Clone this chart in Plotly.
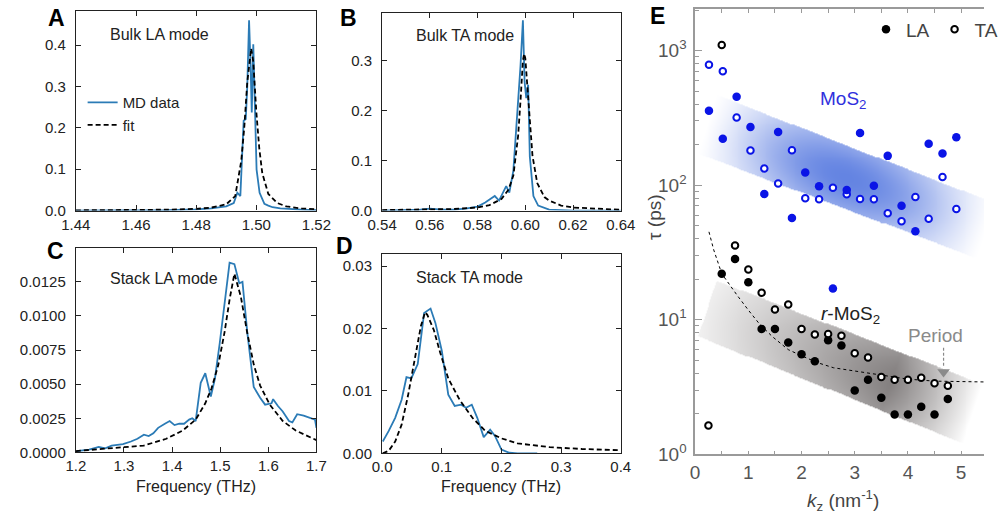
import numpy as np
import plotly.graph_objects as go

W, H = 1003, 529
FONT = "Liberation Sans, Arial, Helvetica, sans-serif"

# ---------------- Panel A: Bulk LA mode ----------------
a_md_f = [1.440, 1.460, 1.470, 1.480, 1.485, 1.490, 1.4925, 1.4937, 1.4947, 1.4958, 1.4965,
          1.4970, 1.4976, 1.4981, 1.4985, 1.4990, 1.4995, 1.5001, 1.5011, 1.5020, 1.5027,
          1.5040, 1.5054, 1.5080, 1.5110, 1.5150, 1.5200]
a_md_v = [0.000, 0.0005, 0.001, 0.003, 0.005, 0.010, 0.018, 0.043, 0.035, 0.217, 0.221,
          0.300, 0.460, 0.351, 0.237, 0.402, 0.240, 0.099, 0.043, 0.030, 0.016,
          0.012, 0.008, 0.005, 0.003, 0.002, 0.001]
a_fit_f = [1.440, 1.460, 1.470, 1.480, 1.485, 1.490, 1.493, 1.495, 1.496, 1.497, 1.498,
           1.4983, 1.499, 1.500, 1.501, 1.502, 1.504, 1.507, 1.510, 1.515, 1.520]
a_fit_v = [0.0005, 0.001, 0.002, 0.004, 0.007, 0.015, 0.035, 0.120, 0.200, 0.310, 0.385,
           0.392, 0.360, 0.240, 0.150, 0.090, 0.040, 0.018, 0.010, 0.005, 0.003]

# ---------------- Panel B: Bulk TA mode ----------------
b_md_f = [0.540, 0.550, 0.556, 0.560, 0.565, 0.570, 0.575, 0.580, 0.5832, 0.5872, 0.589,
          0.592, 0.5933, 0.595, 0.5964, 0.598, 0.599, 0.5997, 0.6004, 0.6012, 0.6019,
          0.6034, 0.6054, 0.6074, 0.610, 0.620, 0.640]
b_md_v = [0.000, 0.001, 0.002, 0.004, 0.002, 0.002, 0.004, 0.008, 0.016, 0.029, 0.020,
          0.049, 0.036, 0.080, 0.173, 0.290, 0.381, 0.258, 0.225, 0.252, 0.108,
          0.029, 0.010, 0.006, 0.002, 0.000, 0.000]
b_fit_f = [0.540, 0.560, 0.570, 0.580, 0.585, 0.590, 0.593, 0.595, 0.597, 0.598, 0.599,
           0.5995, 0.600, 0.601, 0.602, 0.603, 0.605, 0.608, 0.610, 0.615, 0.620, 0.630, 0.640]
b_fit_v = [0.001, 0.002, 0.003, 0.006, 0.011, 0.023, 0.042, 0.070, 0.150, 0.220, 0.300,
           0.314, 0.305, 0.240, 0.170, 0.110, 0.055, 0.027, 0.020, 0.010, 0.006, 0.003, 0.0015]

# ---------------- Panel C: Stack LA mode ----------------
c_md_f = [1.2017, 1.2275, 1.2476, 1.261, 1.2744, 1.298, 1.3145, 1.328, 1.3414, 1.3514, 1.361,
          1.371, 1.385, 1.395, 1.405, 1.415, 1.425, 1.4355, 1.442, 1.449, 1.4595, 1.469,
          1.4805, 1.489, 1.499, 1.5195, 1.5295, 1.5396, 1.5463, 1.5563, 1.5697, 1.583,
          1.5933, 1.6067, 1.61, 1.62, 1.63, 1.643, 1.65, 1.66, 1.6735, 1.687, 1.697, 1.70]
c_md_v = [0.0001, 0.0002, 0.0004, 0.0003, 0.0005, 0.0006, 0.0008, 0.0010, 0.0013, 0.0012, 0.0014,
          0.0018, 0.0021, 0.0023, 0.0020, 0.0021, 0.0021, 0.0024, 0.0025, 0.0023, 0.0051, 0.0058,
          0.0041, 0.0054, 0.0080, 0.0139, 0.0138, 0.0124, 0.0125, 0.0088, 0.0048, 0.0040,
          0.0035, 0.0036, 0.0039, 0.0034, 0.0030, 0.0023, 0.0022, 0.0028, 0.0027, 0.0025, 0.0024, 0.0018]
c_fit_f = [1.200, 1.2744, 1.341, 1.388, 1.422, 1.449, 1.469, 1.482, 1.496, 1.509, 1.5195,
           1.5295, 1.543, 1.556, 1.570, 1.583, 1.603, 1.630, 1.657, 1.700]
c_fit_v = [0.0001, 0.0003, 0.0005, 0.0010, 0.0016, 0.0024, 0.0036, 0.0047, 0.0064, 0.0088, 0.0112,
           0.0131, 0.0114, 0.0088, 0.0064, 0.0049, 0.0035, 0.0023, 0.0016, 0.0009]

# ---------------- Panel D: Stack TA mode ----------------
d_md_f = [0.001, 0.0111, 0.0219, 0.0327, 0.0408, 0.0489, 0.0597, 0.065, 0.0704, 0.0812, 0.0893,
          0.1001, 0.1109, 0.1217, 0.1325, 0.1406, 0.1503, 0.1595, 0.1703, 0.1811, 0.1892,
          0.200, 0.2134, 0.227, 0.260]
d_md_v = [0.0019, 0.0036, 0.0057, 0.0086, 0.0122, 0.0120, 0.0143, 0.0182, 0.0225, 0.0232, 0.0209,
          0.0164, 0.0094, 0.0076, 0.0078, 0.0073, 0.0078, 0.0057, 0.0026, 0.0038, 0.0028,
          0.0006, 0.0001, 0.0, 0.0]
d_fit_f = [0.001, 0.011, 0.0219, 0.0327, 0.0435, 0.054, 0.065, 0.072, 0.0757, 0.0866, 0.0974,
           0.1109, 0.1298, 0.1514, 0.173, 0.200, 0.227, 0.281, 0.335, 0.400]
d_fit_v = [0.0, 0.0004, 0.0019, 0.0046, 0.0093, 0.0146, 0.0204, 0.0226, 0.0222, 0.0198, 0.0161,
           0.0120, 0.0086, 0.0057, 0.0036, 0.0024, 0.0016, 0.0010, 0.0007, 0.0005]

# ---------------- Panel E: lifetimes ----------------
mos2_k = [0.26, 0.52, 0.78, 1.04, 1.30, 1.56, 1.82, 2.07, 2.33, 2.59, 2.85, 3.10, 3.36, 3.62,
          3.88, 4.14, 4.39, 4.65, 4.91]
mos2_la = [357, 221, 454, 270, 86, 248, 57, 124, 98, 17.1, 92, 244, 99, 165, 70.3, 45.5, 203, 172, 227]
mos2_ta = [785, 701, 318, 181, 133, 103, 182, 80, 78.7, 95.6, 85.5, 79, 78.7, 61.8, 54, 81.8, 56.3, 115, 66.6]

rmos2_k = [0.25, 0.50, 0.75, 1.00, 1.25, 1.50, 1.75, 2.00, 2.25, 2.50, 2.75, 3.00, 3.25, 3.50,
           3.75, 4.00, 4.25, 4.50, 4.75]
rmos2_la = [None, 22.0, 28.3, 19.0, 8.53, 8.53, 6.78, 5.55, 4.91, 7.05, 6.45, 2.98, 3.59, 2.63,
            1.98, 1.98, 2.26, 1.98, 2.58]
rmos2_ta = [1.64, 1100, 35.6, 23.6, 15.9, 11.9, 13.0, 8.53, 7.76, 7.85, 7.59, 5.64, 5.25, 3.76,
            3.59, 3.59, 3.71, 3.38, 3.23]

fit_k = [0.26, 0.35, 0.50, 0.65, 0.80, 1.00, 1.20, 1.45, 1.75, 2.00, 2.30, 2.60, 3.00, 3.50,
         4.00, 4.50, 5.00, 5.45]
fit_tau = [45, 33, 22, 18, 15, 11.8, 9.4, 7.5, 6.0, 5.4, 4.8, 4.4, 4.15, 3.85, 3.62, 3.5, 3.45, 3.45]

period_k = 4.67
period_arrow_tau = [6.2, 4.4]

# band corners (k, log10 tau): upper-left, lower-left, upper-right, lower-right
blue_band = ((0.41, 2.670), (0.05, 2.234), (5.65, 1.863), (5.30, 1.457))
grey_band = ((0.41, 1.290), (0.05, 0.878), (5.50, 0.506), (5.13, 0.065))

K_RANGE = [0, 5.43]
LOG_RANGE = [0, 3.31]

BLUE_LINE = "#2b7bb6"
MK_BLUE = "#0a14e6"


def px(x):
    return x / W


def py(y):
    return 1 - y / H


fig = go.Figure()


# ----- gradient bands in E (heatmaps masked to the band) -----
def band_heatmap(corners, inten_fn, peak, nk=300, nl=460):
    ks = np.linspace(K_RANGE[0], K_RANGE[1], nk)
    ls = np.linspace(LOG_RANGE[0], LOG_RANGE[1], nl)
    Kg, Lg = np.meshgrid(ks, ls)
    ul, ll, ur, lr = corners
    up = ul[1] + (ur[1] - ul[1]) * (Kg - ul[0]) / (ur[0] - ul[0])
    lo = ll[1] + (lr[1] - ll[1]) * (Kg - ll[0]) / (lr[0] - ll[0])
    s = (up - Lg) / (up - lo)
    left_k = ul[0] + (ll[0] - ul[0]) * s
    right_k = ur[0] + (lr[0] - ur[0]) * s
    t = (Kg - left_k) / (right_k - left_k)
    inside = (s >= 0) & (s <= 1) & (t >= 0) & (t <= 1)
    z = np.clip(inten_fn(np.clip(t, 0, 1), np.clip(s, 0, 1)), 0, 1)
    z = np.where(inside, np.round(z, 3), np.nan)
    return go.Heatmap(x=ks, y=10 ** ls, z=z, zmin=0, zmax=1, showscale=False,
                      colorscale=[[0, "rgb(255,255,255)"], [1, peak]], zsmooth=False,
                      hoverinfo="skip", xaxis="x5", yaxis="y5")


def blue_int(t, s):
    along = np.sin(np.pi * t) ** 1.25
    across = 0.72 + 0.28 * np.sin(np.pi * s)
    return along * across


def grey_int(t, s):
    along = np.where(t < 0.68, 0.13 + 0.87 * (t / 0.68),
                     np.clip((0.98 - t) / 0.30, 0, 1) ** 0.9)
    across = 0.85 + 0.15 * np.sin(np.pi * s)
    return along * across


fig.add_trace(band_heatmap(blue_band, blue_int, "rgb(100,132,226)"))
fig.add_trace(band_heatmap(grey_band, grey_int, "rgb(132,128,128)"))

# ----- curves A-D -----
panels = [
    (a_md_f, a_md_v, a_fit_f, a_fit_v, "x", "y"),
    (b_md_f, b_md_v, b_fit_f, b_fit_v, "x2", "y2"),
    (c_md_f, c_md_v, c_fit_f, c_fit_v, "x3", "y3"),
    (d_md_f, d_md_v, d_fit_f, d_fit_v, "x4", "y4"),
]
for i, (mf, mv, ff, fv, xa, ya) in enumerate(panels):
    fig.add_trace(go.Scatter(x=mf, y=mv, mode="lines", name="MD data",
                             line=dict(color=BLUE_LINE, width=1.8),
                             xaxis=xa, yaxis=ya, showlegend=(i == 0), legend="legend"))
    fig.add_trace(go.Scatter(x=ff, y=fv, mode="lines", name="fit",
                             line=dict(color="black", width=1.8, dash="5px,3px"),
                             xaxis=xa, yaxis=ya, showlegend=(i == 0), legend="legend"))

# dashed fit in E
fig.add_trace(go.Scatter(x=fit_k, y=fit_tau, mode="lines",
                         line=dict(color="black", width=1, dash="3px,3px"),
                         showlegend=False, xaxis="x5", yaxis="y5", hoverinfo="skip"))

# Period arrow
fig.add_trace(go.Scatter(x=[period_k, period_k], y=period_arrow_tau, mode="lines",
                         line=dict(color="#8a8a8a", width=1.2, dash="3px,2px"),
                         showlegend=False, xaxis="x5", yaxis="y5", hoverinfo="skip"))
fig.add_trace(go.Scatter(x=[period_k], y=[period_arrow_tau[1] * 0.93], mode="markers",
                         marker=dict(symbol="triangle-down", size=11, color="#8a8a8a"),
                         showlegend=False, xaxis="x5", yaxis="y5", hoverinfo="skip"))

# markers
fig.add_trace(go.Scatter(x=mos2_k, y=mos2_ta, mode="markers",
                         marker=dict(symbol="circle", size=6.5, color="white",
                                     line=dict(color=MK_BLUE, width=2)),
                         showlegend=False, xaxis="x5", yaxis="y5"))
fig.add_trace(go.Scatter(x=mos2_k, y=mos2_la, mode="markers",
                         marker=dict(symbol="circle", size=8.5, color=MK_BLUE, line=dict(width=0)),
                         showlegend=False, xaxis="x5", yaxis="y5"))
fig.add_trace(go.Scatter(x=rmos2_k, y=rmos2_la, mode="markers", name="LA",
                         marker=dict(symbol="circle", size=8.5, color="black", line=dict(width=0)),
                         showlegend=True, legend="legend2", xaxis="x5", yaxis="y5"))
fig.add_trace(go.Scatter(x=rmos2_k, y=rmos2_ta, mode="markers", name="TA",
                         marker=dict(symbol="circle", size=6.5, color="white",
                                     line=dict(color="black", width=2)),
                         showlegend=True, legend="legend2", xaxis="x5", yaxis="y5"))

# ----- axes -----
base = dict(showline=True, linecolor="#222", linewidth=1.2, mirror="allticks",
            ticks="inside", ticklen=5, tickwidth=1.1, tickcolor="#222", showgrid=False,
            zeroline=False, tickfont=dict(size=15, color="#222", family=FONT))


def ax(**kw):
    d = dict(base)
    d.update(kw)
    return d


layout = dict(
    width=W, height=H, margin=dict(l=0, r=0, t=0, b=0),
    paper_bgcolor="white", plot_bgcolor="rgba(0,0,0,0)",
    font=dict(family=FONT),
    xaxis=ax(domain=[px(63), px(312)], range=[1.44, 1.52], tickvals=[1.44, 1.46, 1.48, 1.50, 1.52],
             ticktext=["1.44", "1.46", "1.48", "1.50", "1.52"], anchor="y"),
    yaxis=ax(domain=[py(215), py(11)], range=[0, 0.483], tickvals=[0, 0.1, 0.2, 0.3, 0.4],
             ticktext=["0.0", "0.1", "0.2", "0.3", "0.4"], anchor="x", ticklabelstandoff=6),
    xaxis2=ax(domain=[px(380), px(627)], range=[0.54, 0.64],
              tickvals=[0.54, 0.56, 0.58, 0.60, 0.62, 0.64],
              ticktext=["0.54", "0.56", "0.58", "0.60", "0.62", "0.64"], anchor="y2"),
    yaxis2=ax(domain=[py(215), py(13)], range=[0, 0.396], tickvals=[0, 0.1, 0.2, 0.3],
              ticktext=["0.0", "0.1", "0.2", "0.3"], anchor="x2", ticklabelstandoff=6),
    xaxis3=ax(domain=[px(63), px(312)], range=[1.2, 1.7],
              tickvals=[1.2, 1.3, 1.4, 1.5, 1.6, 1.7],
              ticktext=["1.2", "1.3", "1.4", "1.5", "1.6", "1.7"], anchor="y3"),
    yaxis3=ax(domain=[py(462), py(253)], range=[0, 0.015],
              tickvals=[0, 0.0025, 0.005, 0.0075, 0.01, 0.0125],
              ticktext=["0.0000", "0.0025", "0.0050", "0.0075", "0.0100", "0.0125"],
              anchor="x3", ticklabelstandoff=6),
    xaxis4=ax(domain=[px(380), px(627)], range=[0, 0.4],
              tickvals=[0, 0.1, 0.2, 0.3, 0.4],
              ticktext=["0.0", "0.1", "0.2", "0.3", "0.4"], anchor="y4"),
    yaxis4=ax(domain=[py(463), py(259)], range=[0, 0.032],
              tickvals=[0, 0.01, 0.02, 0.03],
              ticktext=["0.00", "0.01", "0.02", "0.03"], anchor="x4", ticklabelstandoff=6),
    xaxis5=dict(domain=[px(704), 1.0], range=K_RANGE, anchor="y5",
                showline=True, linecolor="#9a9a9a", linewidth=1.5, mirror="allticks",
                ticks="inside", ticklen=4, tickwidth=1, tickcolor="#9a9a9a",
                tickvals=[0, 0.5, 1, 1.5, 2, 2.5, 3, 3.5, 4, 4.5, 5],
                ticktext=["0", "", "1", "", "2", "", "3", "", "4", "", "5"],
                showgrid=False, zeroline=False,
                tickfont=dict(size=19, color="#555", family=FONT)),
    yaxis5=dict(domain=[py(464), py(9)], type="log", range=LOG_RANGE, anchor="x5",
                showline=True, linecolor="#9a9a9a", linewidth=1.5, mirror=False,
                ticks="inside", ticklen=7, tickwidth=1, tickcolor="#9a9a9a",
                tickvals=[1, 10, 100, 1000],
                ticktext=["10<sup>0</sup>", "10<sup>1</sup>", "10<sup>2</sup>", "10<sup>3</sup>"],
                minor=dict(ticks="inside", ticklen=4, tickcolor="#9a9a9a",
                           tickvals=[m * d for d in (1, 10, 100, 1000) for m in range(2, 10)]),
                showgrid=False, zeroline=False, ticklabelstandoff=3,
                tickfont=dict(size=19, color="#555", family=FONT)),
    legend=dict(x=px(70), y=py(88), xanchor="left", yanchor="top",
                bgcolor="rgba(0,0,0,0)", font=dict(size=15, color="#222", family=FONT),
                itemwidth=30, tracegroupgap=0),
    legend2=dict(x=px(881), y=py(30), xanchor="left", yanchor="middle", orientation="h",
                 bgcolor="rgba(0,0,0,0)", font=dict(size=19, color="#444", family=FONT),
                 itemwidth=30),
)
fig.update_layout(**layout)

# ----- annotations -----
ann = []


def text(x, y, s, size=16, color="#222", angle=0, xanchor="center"):
    ann.append(dict(x=px(x), y=py(y), xref="paper", yref="paper", text=s, showarrow=False,
                    xanchor=xanchor, yanchor="middle", textangle=angle,
                    font=dict(size=size, color=color, family=FONT)))


for lab, x, y in [("A", 43, 18), ("B", 345, 18), ("C", 42, 256), ("D", 341, 251), ("E", 665, 16)]:
    text(x, y, "<b>%s</b>" % lab, size=23, color="black")

text(150, 35, "Bulk LA mode")
text(466, 36, "Bulk TA mode")
text(154, 284, "Stack LA mode")
text(470, 283, "Stack TA mode")
text(187.5, 497, "Frequency (THz)")
text(503.5, 497, "Frequency (THz)")

text(857, 102, "MoS<sub>2</sub>", size=19, color="#3030dd")
text(865, 322, "<i>r</i>-MoS<sub>2</sub>", size=19, color="#222")
text(953, 343, "Period", size=19, color="#8a8a8a")
text(857, 511, "<i>k</i><sub>z</sub> (nm<sup>-1</sup>)", size=19, color="#444")
text(662, 222, "τ (ps)", size=19, color="#444", angle=-90)

fig.update_layout(annotations=ann)

fig.write_html("out.html")
